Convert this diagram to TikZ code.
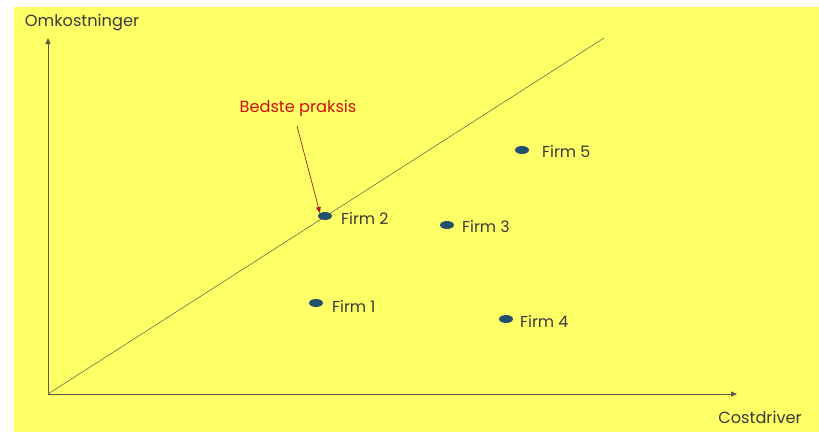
\documentclass[tikz,border=0pt]{standalone}
\usepackage{fontspec}
\setmainfont{Poppins}
\usetikzlibrary{arrows.meta,shapes.geometric}
\definecolor{bgyellow}{HTML}{FFFF66}
\definecolor{axisgray}{HTML}{5A5A4A}
\definecolor{txtgray}{HTML}{3A3A3A}
\definecolor{dotblue}{HTML}{22506E}
\definecolor{bpred}{HTML}{D01010}
\tikzset{
  firmdot/.style={ellipse, fill=dotblue, draw=none, minimum width=14pt, minimum height=8pt, inner sep=0pt},
  firmlbl/.style={anchor=west, text=txtgray, font=\fontsize{15.8}{18}\selectfont, inner sep=0pt},
  axislbl/.style={text=txtgray, font=\fontsize{16.2}{18}\selectfont, inner sep=0pt},
  axisline/.style={draw=axisgray, line width=0.9pt, -{Triangle[length=6pt,width=5pt]}}
}
\begin{document}
\begin{tikzpicture}[x=1pt,y=-1pt]
\useasboundingbox (0,0) rectangle (819,432);
\fill[white] (0,0) rectangle (819,432);
\fill[bgyellow] (14,7) rectangle (819,432);
\coordinate (O) at (48,394);
\coordinate (ytop) at (48,38);
\coordinate (xend) at (737,394);
\coordinate (dend) at (604,38);
\draw[axisline] (O) -- (ytop);
\draw[axisline] (O) -- (xend);
\draw[draw=axisgray, line width=0.5pt] (O) -- (dend);
\node[axislbl] (ylbl) at (82,23) {Omkostninger};
\node[axislbl] (xlbl) at (760,417) {Costdriver};
\node[firmdot] (f1) at (316,303) {};
\node[firmdot] (f2) at (325,216) {};
\node[firmdot] (f3) at (447,225) {};
\node[firmdot] (f4) at (506,319) {};
\node[firmdot] (f5) at (522,150) {};
\node[firmlbl] (l1) at (332,306) {Firm 1};
\node[firmlbl] (l2) at (341,218) {Firm 2};
\node[firmlbl] (l3) at (462,227) {Firm 3};
\node[firmlbl] (l4) at (520,321) {Firm 4};
\node[firmlbl] (l5) at (542,151) {Firm 5};
\node[text=bpred, font=\fontsize{16.2}{18}\selectfont, inner sep=0pt] (bp) at (298,108) {Bedste praksis};
\coordinate (bpstart) at (297,126);
\draw[draw=bpred!70!black, line width=0.6pt, -{Triangle[length=6pt,width=4.5pt,fill=bpred]}] (bpstart) -- (f2.north west);
\end{tikzpicture}
\end{document}
